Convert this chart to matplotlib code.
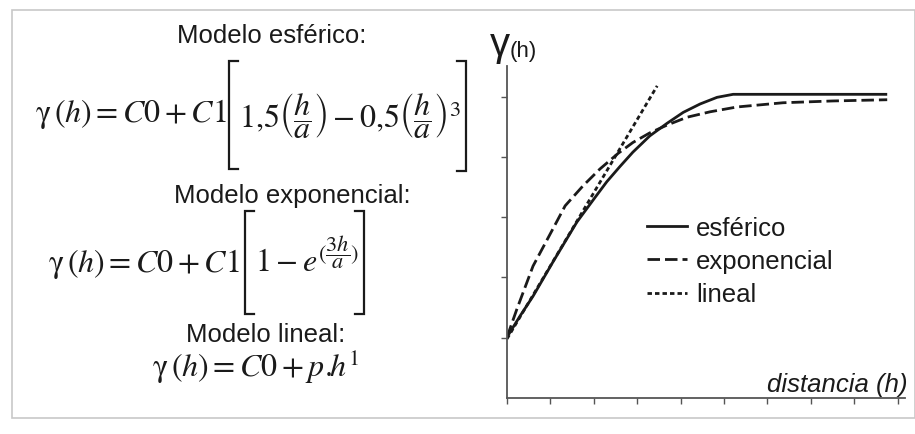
import matplotlib
matplotlib.use("Agg")
import matplotlib.pyplot as plt
from matplotlib.lines import Line2D
from matplotlib.patches import Rectangle

# ── Data ─────────────────────────────────────────────────────────────────────
x_ticks = [0, 1, 2, 3, 4, 5, 6, 7, 8, 9]
y_ticks = [1, 2, 3, 4, 5]

esf_x = [0.00, 0.30, 0.60, 1.06, 1.61, 2.03, 2.30, 2.60, 2.90, 3.29, 3.69, 4.06, 4.45, 4.84, 5.21, 8.76]
esf_y = [1.01, 1.36, 1.69, 2.26, 2.92, 3.33, 3.59, 3.84, 4.08, 4.35, 4.56, 4.74, 4.88, 4.99, 5.04, 5.04]

exp_x = [0.00, 0.23, 0.60, 1.06, 1.34, 1.75, 2.14, 2.56, 2.90, 3.29, 3.69, 4.15, 4.68, 5.30, 6.36, 7.51, 8.76]
exp_y = [1.01, 1.48, 2.19, 2.81, 3.19, 3.52, 3.80, 4.06, 4.24, 4.40, 4.53, 4.66, 4.75, 4.83, 4.90, 4.93, 4.95]

lin_x = [0.00, 3.46]
lin_y = [0.98, 5.18]

labels = ["esférico", "exponencial", "lineal"]

W, H = 915, 435
ink = "#1a1a1a"


def fx(x):
    return x / W


def fy(y):
    return 1 - y / H


def bracket(fig, x, top, bottom, side, serif=9):
    """Draw a tall square bracket in pixel coordinates; side is +1 (left) or -1 (right)."""
    xs = [x + side * serif, x, x, x + side * serif]
    ys = [top, top, bottom, bottom]
    fig.add_artist(Line2D([fx(v) for v in xs], [fy(v) for v in ys],
                          transform=fig.transFigure, color=ink, lw=1.6,
                          solid_joinstyle="miter"))


plt.rcParams["font.family"] = ["Liberation Sans", "DejaVu Sans"]
plt.rcParams["mathtext.fontset"] = "stix"

fig = plt.figure(figsize=(W / 100, H / 100), dpi=100)

# light frame around the whole picture
fig.patches.append(Rectangle((fx(12), fy(419)), fx(915) - fx(12), fy(11) - fy(419),
                             transform=fig.transFigure, fill=False,
                             edgecolor="#c8c8c8", linewidth=1.2))

# ── Formulas ─────────────────────────────────────────────────────────────────
lhs = r"$\mathrm{\gamma}\,(h) = C0 + C1$"
msize = 23

fig.text(fx(272), fy(36), "Modelo esférico:", ha="center", va="center", fontsize=18.5, color=ink)
fig.text(fx(35), fy(122), lhs, ha="left", va="baseline", fontsize=msize, color=ink)
bracket(fig, 229, 62, 170, +1)
fig.text(fx(239), fy(116),
         r"$1{,}5\left(\dfrac{h}{a}\right) - 0{,}5\left(\dfrac{h}{a}\right)^3$",
         ha="left", va="center", fontsize=msize, color=ink)
bracket(fig, 466, 62, 172, -1)

fig.text(fx(292), fy(196), "Modelo exponencial:", ha="center", va="center", fontsize=18.5, color=ink)
fig.text(fx(48), fy(272), lhs, ha="left", va="baseline", fontsize=msize, color=ink)
bracket(fig, 245, 212, 315, +1)
fig.text(fx(255), fy(272), r"$1 - e^{(\dfrac{3h}{a})}$",
         ha="left", va="baseline", fontsize=msize, color=ink)
bracket(fig, 364, 212, 315, -1)

fig.text(fx(266), fy(335), "Modelo lineal:", ha="center", va="center", fontsize=18.5, color=ink)
fig.text(fx(152), fy(377), r"$\mathrm{\gamma}\,(h) = C0 + p.\!\!h^1$",
         ha="left", va="baseline", fontsize=msize, color=ink)

# ── Variogram plot ───────────────────────────────────────────────────────────
ax = fig.add_axes([fx(507), fy(399), fx(905) - fx(507), fy(67) - fy(399)])
ax.set_xlim(0, 9.17)
ax.set_ylim(0, 5.51)

ax.plot(esf_x, esf_y, color=ink, lw=2.0, solid_capstyle="butt")
ax.plot(exp_x, exp_y, color=ink, lw=2.0, dashes=(4.5, 1.8))
ax.plot(lin_x, lin_y, color=ink, lw=2.0, dashes=(1.6, 1.1))

for side in ("top", "right"):
    ax.spines[side].set_visible(False)
for side in ("left", "bottom"):
    ax.spines[side].set_color("#555555")
    ax.spines[side].set_linewidth(1.3)

ax.set_xticks(x_ticks)
ax.set_yticks(y_ticks)
ax.tick_params(direction="out", length=4, width=1.0, color="#555555",
               labelbottom=False, labelleft=False)

fig.text(fx(908), fy(392), "distancia (h)", ha="right", va="baseline",
         fontsize=18.5, style="italic", color=ink)
fig.text(fx(490), fy(45), "γ", ha="left", va="center", fontsize=29, color=ink)
fig.text(fx(510), fy(51), "(h)", ha="left", va="center", fontsize=16, color=ink)

handles = [
    Line2D([], [], color=ink, lw=2.0),
    Line2D([], [], color=ink, lw=2.0, dashes=(4.5, 1.8)),
    Line2D([], [], color=ink, lw=2.0, dashes=(1.6, 1.1)),
]
ax.legend(handles, labels, loc="upper left", bbox_to_anchor=(fx(647), fy(217)),
          bbox_transform=fig.transFigure, frameon=False, fontsize=18.5,
          handlelength=1.55, handletextpad=0.35, labelspacing=0.36,
          borderpad=0, borderaxespad=0, labelcolor=ink)

fig.savefig("out.png", dpi=100)
